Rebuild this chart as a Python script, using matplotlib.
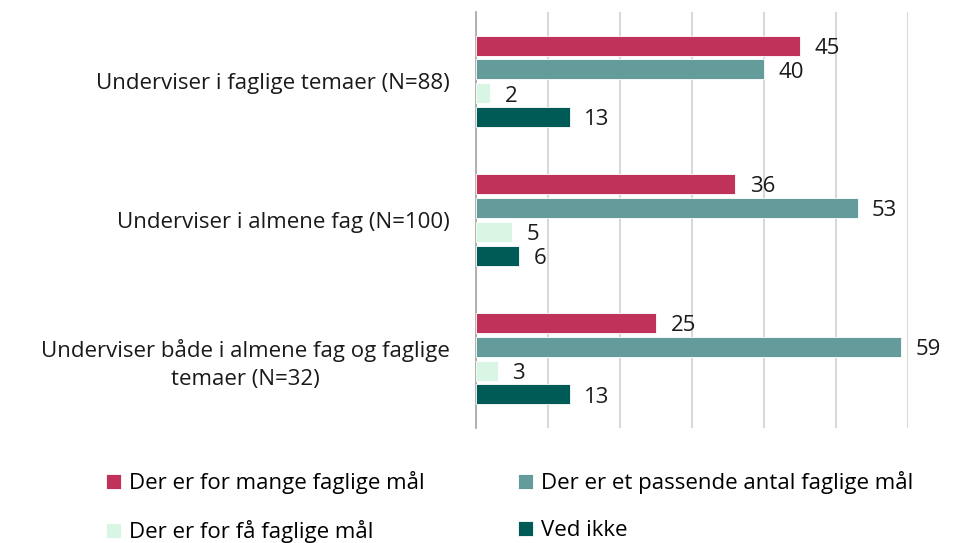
import matplotlib.pyplot as plt
import numpy as np

plt.rcParams['font.family'] = ['Open Sans', 'DejaVu Sans']

categories = [
    "Underviser i faglige temaer (N=88)",
    "Underviser i almene fag (N=100)",
    "Underviser både i almene fag og faglige\ntemaer (N=32)",
]
series_names = [
    "Der er for mange faglige mål",
    "Der er et passende antal faglige mål",
    "Der er for få faglige mål",
    "Ved ikke",
]
values = [
    [45, 36, 25],
    [40, 53, 59],
    [2, 5, 3],
    [13, 6, 13],
]
colors = ["#C0325A", "#639C9A", "#D9F5E3", "#005B57"]

fig = plt.figure(figsize=(9.75, 5.43), dpi=100)
ax = fig.add_axes([476 / 975, 1 - 428 / 543, (908 - 476) / 975, (428 - 12) / 543])

y = np.arange(len(categories))
step = 0.172
h = 0.145
bars = []
for i, (name, vals) in enumerate(zip(series_names, values)):
    pos = y - 1.5 * step + i * step
    b = ax.barh(pos, vals, height=h, color=colors[i], edgecolor="white",
                linewidth=0.6, label=name, zorder=3)
    bars.append(b)
    for p, v in zip(pos, vals):
        ax.text(v + 2.0, p + 0.02, str(v), va="center", ha="left",
                fontsize=16, color="#1a1a1a", clip_on=False)

ax.set_xlim(0, 60)
ax.set_ylim(len(categories) - 0.5, -0.5)
ax.set_xticks(np.arange(0, 61, 10))
ax.set_xticklabels([])
ax.tick_params(axis="x", length=0)
ax.set_yticks(y)
ax.set_yticklabels(categories, fontsize=16, color="#1a1a1a")
for lab in ax.get_yticklabels():
    lab.set_multialignment("center")
    lab.set_linespacing(1.45)
ax.tick_params(axis="y", length=0, pad=19)
ax.grid(axis="x", color="#D9D9D9", linewidth=1.5, zorder=0)
for s in ["top", "right", "bottom"]:
    ax.spines[s].set_visible(False)
ax.spines["left"].set_color("#A6A6A6")
ax.spines["left"].set_linewidth(1.2)

order = [0, 2, 1, 3]
fig.legend([bars[k] for k in order], [series_names[k] for k in order],
           loc="lower left", bbox_to_anchor=(86 / 975, -0.037), ncol=2,
           frameon=False, fontsize=16, handlelength=0.68, handleheight=0.68,
           handletextpad=0.36, columnspacing=4.2, labelspacing=1.17)

fig.savefig("out.png", dpi=100)
